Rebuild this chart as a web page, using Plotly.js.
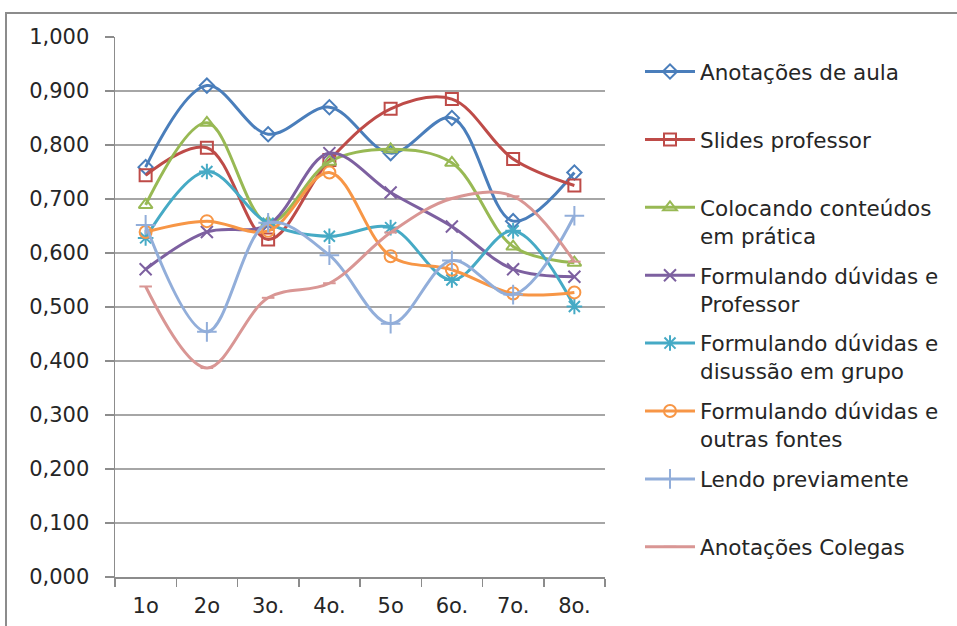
<!DOCTYPE html>
<html>
<head>
<meta charset="utf-8">
<script src="https://cdn.plot.ly/plotly-3.0.1.min.js"></script>
<style>html,body{margin:0;padding:0;background:#fff;}#chart{width:957px;height:626px;}</style>
</head>
<body>
<div id="chart"></div>
<script>
const categories = ['1o', '2o', '3o.', '4o.', '5o', '6o.', '7o.', '8o.'];
const seriesNames = [
  'Anotações de aula<br> ',
  'Slides professor<br> ',
  'Colocando conteúdos<br>em prática',
  'Formulando dúvidas e<br>Professor',
  'Formulando dúvidas e<br>disussão em grupo',
  'Formulando dúvidas e<br>outras fontes',
  'Lendo previamente<br> ',
  'Anotações Colegas<br> '
];
const anotacoesAula   = [0.759, 0.910, 0.820, 0.870, 0.785, 0.850, 0.659, 0.749];
const slidesProfessor = [0.744, 0.795, 0.625, 0.772, 0.867, 0.885, 0.774, 0.725];
const colocandoPratica= [0.689, 0.841, 0.656, 0.769, 0.792, 0.767, 0.612, 0.582];
const duvidasProfessor= [0.570, 0.639, 0.652, 0.785, 0.712, 0.649, 0.570, 0.556];
const duvidasGrupo    = [0.628, 0.751, 0.655, 0.631, 0.647, 0.550, 0.641, 0.501];
const duvidasFontes   = [0.639, 0.659, 0.641, 0.749, 0.594, 0.569, 0.525, 0.527];
const lendoPreviamente= [0.652, 0.454, 0.656, 0.596, 0.469, 0.586, 0.523, 0.669];
const anotacoesColegas= [0.538, 0.387, 0.517, 0.544, 0.638, 0.701, 0.705, 0.584];

const seriesValues = [anotacoesAula, slidesProfessor, colocandoPratica, duvidasProfessor,
  duvidasGrupo, duvidasFontes, lendoPreviamente, anotacoesColegas];
const colors = ['#4A7EBB', '#BE4B48', '#98B954', '#7D60A0', '#46AAC5', '#F79646', '#92AEDA', '#D99694'];
const symbols = ['diamond-open', 'square-open', 'triangle-up-open', 'x-thin-open', 'asterisk-open', 'circle-open', 'cross-thin-open', 'line-ew-open'];
const sizes = [11, 12, 12, 12, 13, 12, 14, 9];

const traces = seriesValues.map((vals, i) => ({
  type: 'scatter',
  mode: 'lines+markers',
  x: categories,
  y: vals,
  name: seriesNames[i],
  legendgroup: 'g' + i,
  line: {color: colors[i], width: 3, shape: 'spline', smoothing: 1},
  marker: {symbol: symbols[i], size: sizes[i], color: colors[i], line: {color: colors[i], width: 2}}
}));

const L = 115, R = 605, T = 37, B = 577, W = 957, H = 626;
const px = v => (v - L) / (R - L);
const py = v => (B - v) / (B - T);

const layout = {
  width: W, height: H,
  margin: {l: L, r: W - R, t: T, b: H - B, pad: 0},
  paper_bgcolor: '#ffffff',
  plot_bgcolor: '#ffffff',
  separators: ',.',
  font: {family: 'DejaVu Sans', size: 21, color: '#262626'},
  showlegend: true,
  legend: {
    x: px(640), y: py(51), xanchor: 'left', yanchor: 'top',
    valign: 'top',
    font: {family: 'DejaVu Sans', size: 21.5, color: '#262626'},
    tracegroupgap: 9,
    itemwidth: 50,
    bgcolor: 'rgba(0,0,0,0)'
  },
  xaxis: {
    type: 'category',
    range: [-0.5, 7.5],
    showgrid: false,
    showline: true, linecolor: '#8C8C8C', linewidth: 1.5,
    ticks: 'outside', tickson: 'boundaries', ticklen: 8, tickcolor: '#8C8C8C', tickwidth: 1.5,
    ticklabelstandoff: 9,
    tickfont: {family: 'DejaVu Sans', size: 21, color: '#262626'},
    zeroline: false, fixedrange: true
  },
  yaxis: {
    range: [0, 1],
    dtick: 0.1, tick0: 0,
    tickformat: '.3f',
    showgrid: true, gridcolor: '#A6A6A6', gridwidth: 1.5,
    showline: true, linecolor: '#8C8C8C', linewidth: 1.5,
    ticks: 'outside', ticklen: 9, tickcolor: '#8C8C8C', tickwidth: 1.5,
    ticklabelstandoff: 11,
    tickfont: {family: 'DejaVu Sans', size: 21, color: '#262626'},
    zeroline: false, fixedrange: true
  },
  shapes: [{
    type: 'rect', xref: 'paper', yref: 'paper',
    x0: px(6), x1: px(975), y0: py(640), y1: py(13),
    line: {color: '#8C8C8C', width: 2}, fillcolor: 'rgba(0,0,0,0)', layer: 'below'
  }]
};

Plotly.newPlot('chart', traces, layout, {displayModeBar: false, staticPlot: true});
</script>
</body>
</html>
